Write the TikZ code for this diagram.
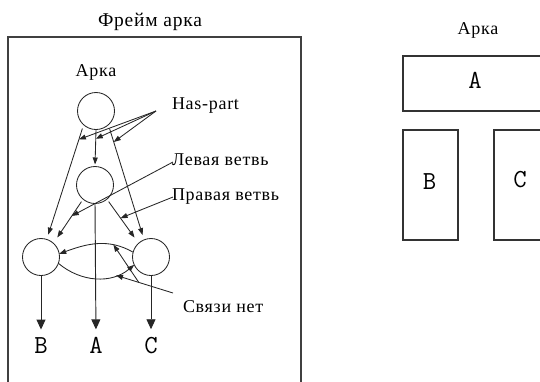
\documentclass[tikz,border=0pt]{standalone}
\usepackage{fontspec}
\setmainfont{Liberation Serif}[LetterSpace=4]
\usetikzlibrary{arrows.meta,calc}

\begin{document}
\begin{tikzpicture}[x=1pt,y=-1pt,
  every node/.style={inner sep=0pt,outer sep=0pt},
  txt/.style={font=\fontsize{18}{20}\selectfont},
  letter/.style={font=\ttfamily\fontsize{26}{28}\selectfont},
  slot/.style={circle,draw=black!85,line width=0.85pt,minimum size=37pt},
  link/.style={draw=black!85,line width=0.85pt,-{Triangle[length=7pt,width=5pt]}},
  drop/.style={draw=black!85,line width=0.95pt,-{Triangle[length=10pt,width=9pt]}},
  panel/.style={draw=black!80,line width=1.1pt},
  frame/.style={draw=black!75,line width=1.2pt}
]
\useasboundingbox (0,0) rectangle (540,381);

% ---- frame of the arch ----
\node[txt,font=\fontsize{19.5}{22}\selectfont] (ttl) at (150,22) {Фрейм арка};
\coordinate (fbl) at (8,395);
\coordinate (ftl) at (8,37);
\coordinate (ftr) at (301,37);
\coordinate (fbr) at (301,395);
\draw[frame] (fbl) -- (ftl) -- (ftr) -- (fbr);

\node[txt] (arka) at (96,72) {Арка};
\node[slot] (top) at (96,111) {};
\node[slot] (mid) at (95,185) {};
\node[slot] (lft) at (41,257) {};
\node[slot] (rgt) at (151,257) {};

\node[txt,anchor=west] (hp) at (172,106) {Has-part};
\node[txt,anchor=west] (lv) at (172,160) {Левая ветвь};
\node[txt,anchor=west] (pv) at (172,197) {Правая ветвь};
\node[txt,anchor=west] (sn) at (183,307) {Связи нет};

\node[letter] (lb) at (41,345.5) {B};
\node[letter] (la) at (96,345.5) {A};
\node[letter] (lc) at (151,345.5) {C};

% has-part links
\draw[link,shorten <=4pt,shorten >=5pt] (top.228) -- (lft.72) coordinate[pos=0.128] (eTL);
\draw[link,shorten >=2pt] (top.south) -- (mid.north) coordinate[pos=0.25] (eTM);
\draw[link,shorten <=4pt,shorten >=5pt] (top.312) -- (rgt.112) coordinate[pos=0.15] (eTR);

% branches
\draw[link,shorten <=3pt,shorten >=7pt] (mid.230) -- (lft.48) coordinate[pos=0.38] (eML);
\draw[link,shorten <=3pt,shorten >=7pt] (mid.310) -- (rgt.132) coordinate[pos=0.43] (eMR);

% relations between the side parts
\draw[link] (rgt.165) to[out=150,in=20] coordinate[pos=0.27] (eUp) (lft.10);
\draw[link] (lft.-20) to[out=-40,in=220] coordinate[pos=0.75] (eLo) (rgt.205);

% parts down to the letters
\draw[drop,shorten >=8pt] (lft.south) -- (lb.north);
\draw[drop,shorten >=8pt] (mid.south) -- (la.north);
\draw[drop,shorten >=8pt] (rgt.south) -- (lc.north);

% label pointers
\coordinate (hpo) at ($(hp.west)+(-16,5)$);
\draw[link] (hpo) -- (eTL);
\draw[link] (hpo) -- (eTM);
\draw[link] (hpo) -- (eTR);

\coordinate (lvo) at ($(lv.west)+(1,2)$);
\draw[link] (lvo) -- (eML);
\coordinate (pvo) at ($(pv.west)+(1,0)$);
\draw[link] (pvo) -- (eMR);

\coordinate (sno) at ($(sn.west)+(-10,-14)$);
\draw[link] (sno) -- (eLo) coordinate[pos=0.6] (snb);
\draw[link] (snb) -- (eUp);

% ---- the arch itself ----
\node[txt] (arka2) at (478,30) {Арка};
\node[panel,minimum width=145pt,minimum height=55pt] (ra) at (475.5,83.5) {};
\node[panel,minimum width=55pt,minimum height=110pt] (rb) at (430.5,185) {};
\node[panel,minimum width=54pt,minimum height=110pt] (rc) at (521,185) {};
\node[letter] (ta) at (475,80) {A};
\node[letter] (tb) at (429.5,182) {B};
\node[letter] (tc) at (520,180) {C};
\end{tikzpicture}
\end{document}
